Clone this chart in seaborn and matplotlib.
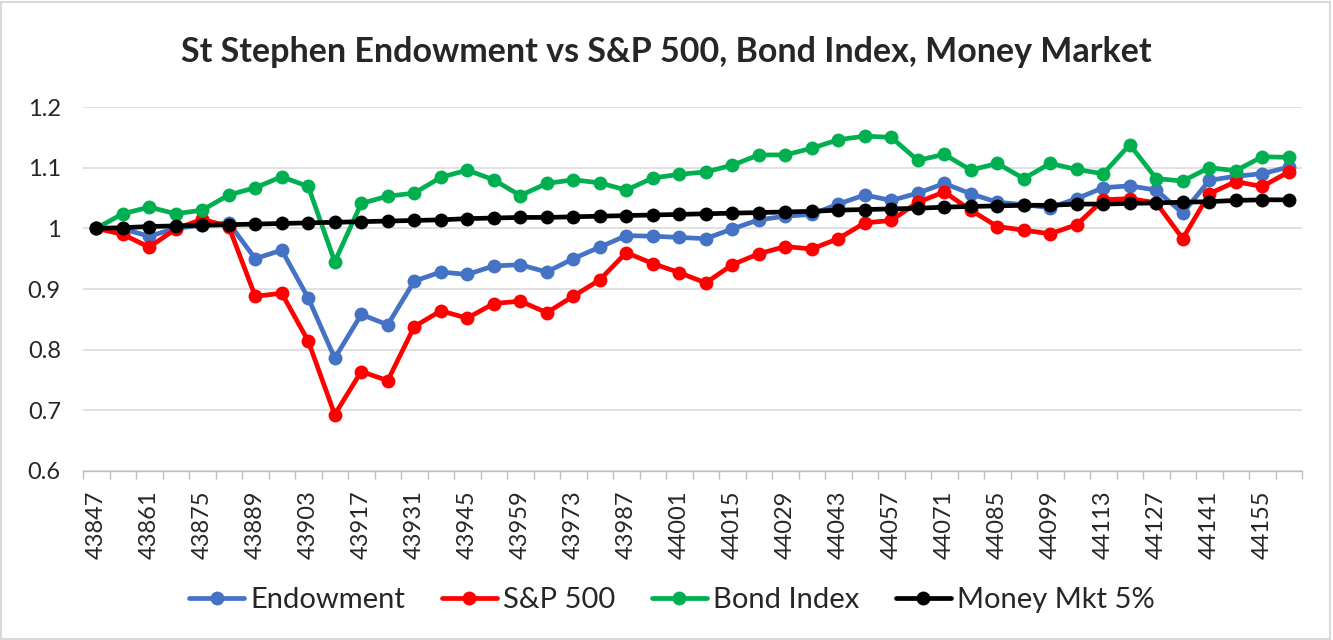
import seaborn as sb
import matplotlib.pyplot as plt
import numpy as np
import pandas as pd
from matplotlib.patches import Rectangle
from matplotlib.ticker import FixedLocator, FuncFormatter

# weekly Excel date serials
dates = list(range(43847, 44163, 7))

endowment = [1.000, 0.999, 0.987, 1.000, 1.005, 1.009, 0.950, 0.964, 0.885, 0.786,
             0.858, 0.841, 0.913, 0.928, 0.924, 0.938, 0.940, 0.928, 0.950, 0.969,
             0.988, 0.987, 0.985, 0.983, 0.999, 1.014, 1.020, 1.023, 1.040, 1.055,
             1.046, 1.058, 1.074, 1.057, 1.043, 1.039, 1.034, 1.049, 1.067, 1.070,
             1.063, 1.025, 1.079, 1.086, 1.090, 1.101]
sp500 = [1.000, 0.990, 0.969, 0.999, 1.015, 1.003, 0.888, 0.893, 0.814, 0.693,
         0.764, 0.749, 0.838, 0.864, 0.852, 0.876, 0.880, 0.861, 0.888, 0.915,
         0.960, 0.942, 0.927, 0.910, 0.940, 0.958, 0.970, 0.966, 0.983, 1.009,
         1.013, 1.043, 1.060, 1.030, 1.003, 0.997, 0.991, 1.006, 1.047, 1.049,
         1.042, 0.983, 1.057, 1.077, 1.069, 1.093]
bond = [1.000, 1.024, 1.035, 1.024, 1.030, 1.055, 1.067, 1.085, 1.069, 0.945,
        1.041, 1.053, 1.058, 1.084, 1.096, 1.080, 1.054, 1.074, 1.080, 1.075,
        1.063, 1.083, 1.089, 1.093, 1.104, 1.121, 1.121, 1.132, 1.146, 1.152,
        1.150, 1.112, 1.122, 1.096, 1.107, 1.082, 1.107, 1.097, 1.090, 1.138,
        1.082, 1.078, 1.100, 1.095, 1.118, 1.117]
money = [1.000, 1.001, 1.003, 1.004, 1.005, 1.006, 1.007, 1.008, 1.009, 1.010,
         1.011, 1.012, 1.013, 1.014, 1.016, 1.017, 1.018, 1.018, 1.019, 1.020,
         1.021, 1.022, 1.023, 1.024, 1.025, 1.026, 1.027, 1.028, 1.030, 1.031,
         1.032, 1.033, 1.035, 1.036, 1.037, 1.038, 1.038, 1.040, 1.040, 1.041,
         1.042, 1.043, 1.044, 1.046, 1.047, 1.047]

names = ['Endowment', 'S&P 500', 'Bond Index', 'Money Mkt 5%']
colors = ['#4472C4', '#FF0000', '#00B050', '#000000']

data = pd.DataFrame({'date': dates, 'Endowment': endowment, 'S&P 500': sp500,
                     'Bond Index': bond, 'Money Mkt 5%': money})
data = data.melt(id_vars='date', var_name='series', value_name='value')

sb.set_style('white')
plt.rcParams['font.family'] = ['Lato', 'DejaVu Sans']

fig = plt.figure(figsize=(13.33, 6.4), dpi=100)
ax = fig.add_axes([83 / 1333, 1 - 471 / 640, (1302 - 83) / 1333, (471 - 107) / 640])

for name, c in zip(names, colors):
    sb.lineplot(x='date', y='value', data=data.query("series == @name"),
                color=c, marker='o', markersize=10, markeredgewidth=0,
                linewidth=3.4, ax=ax, label=name)

ax.set_xlim(dates[0] - 3.5, dates[-1] + 3.5)
ax.set_ylim(0.6, 1.2)
ax.set_yticks(np.arange(0.6, 1.21, 0.1))
ax.yaxis.set_major_formatter(FuncFormatter(lambda v, p: f'{v:g}'))
ax.set_xticks(dates[::2])
ax.set_xticklabels([str(d) for d in dates[::2]], rotation=90)
ax.xaxis.set_minor_locator(FixedLocator([d - 3.5 for d in dates] + [dates[-1] + 3.5]))
ax.tick_params(axis='x', which='major', length=0, pad=14, labelsize=17)
ax.tick_params(axis='x', which='minor', length=6, width=1, color='#bfbfbf', direction='out', bottom=True)
ax.tick_params(axis='y', length=0, pad=16, labelsize=17)
ax.set_xlabel('')
ax.set_ylabel('')
ax.grid(axis='y', color='#d9d9d9', linewidth=1.1)
ax.set_axisbelow(True)
for s in ['left', 'right', 'top']:
    ax.spines[s].set_visible(False)
ax.spines['bottom'].set_color('#bfbfbf')
ax.spines['bottom'].set_linewidth(1)

handles, labels = ax.get_legend_handles_labels()
ax.get_legend().remove()
fig.legend(handles, labels, loc='center', bbox_to_anchor=(0.504, 1 - 600 / 640),
           ncol=4, frameon=False, fontsize=21, handlelength=1.9,
           handletextpad=0.2, columnspacing=1.25)

fig.suptitle('St Stephen Endowment vs S&P 500, Bond Index, Money Market',
             y=1 - 52 / 640, va='center', fontsize=24.5, fontweight='bold')

fig.patches.append(Rectangle((0.001, 0.002), 0.997, 0.995, transform=fig.transFigure,
                             fill=False, edgecolor='#d9d9d9', linewidth=1.5))

plt.savefig('out.png', dpi=100)
